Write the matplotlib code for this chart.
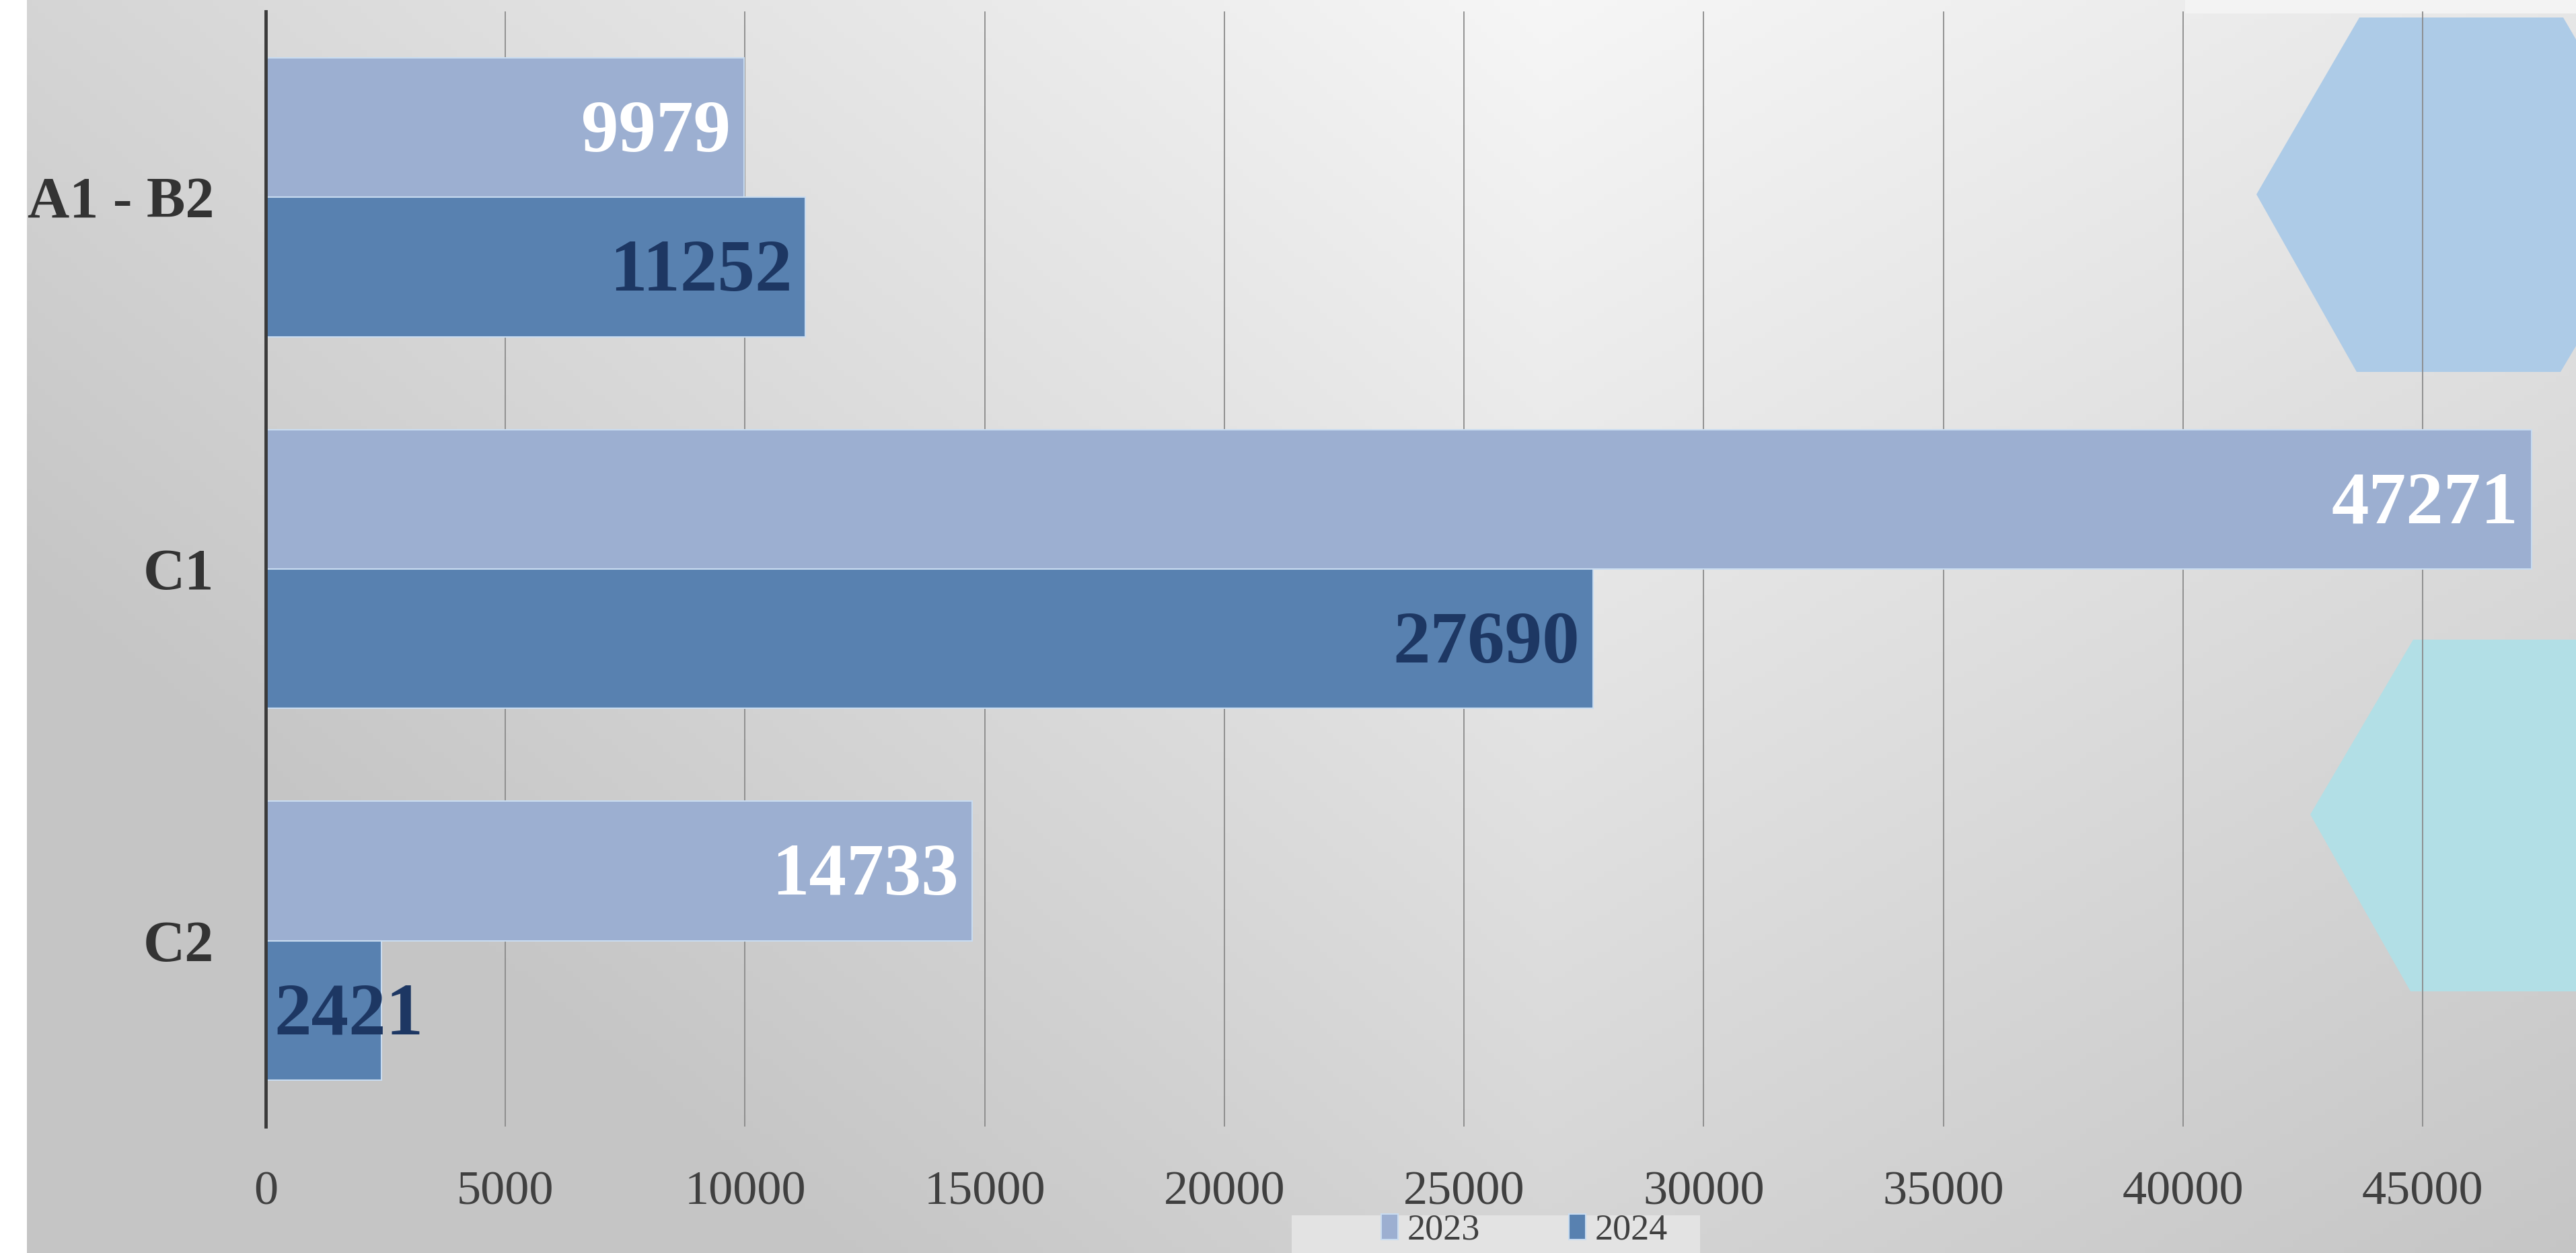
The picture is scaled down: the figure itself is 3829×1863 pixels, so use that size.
"""
Horizontal bar chart: counts per level group, 2023 vs 2024.
Saves out.png (3829x1863).
"""

import numpy as np
import matplotlib.pyplot as plt
from matplotlib.patches import Polygon, Rectangle

# data
categories = ["A1 - B2", "C1", "C2"]
years = ["2023", "2024"]
values_2023 = [9979, 47271, 14733]
values_2024 = [11252, 27690, 2421]
x_ticks = [0, 5000, 10000, 15000, 20000, 25000, 30000, 35000, 40000, 45000]

COLOR_2023 = "#9cafd1"
COLOR_2024 = "#5881b0"
LABEL_2023 = "white"
LABEL_2024 = "#1d3763"
SERIF = ["Liberation Serif", "DejaVu Serif"]

W, H = 3829, 1863
DPI = 100


def px(x, y):
    """pixel coords (origin top-left) -> figure fraction"""
    return x / W, 1 - y / H


def draw_background(fig):
    bg = fig.add_axes([0, 0, 1, 1], zorder=-10)
    bg.set_axis_off()
    yy, xx = np.mgrid[0:1:200j, 0:1:400j]   # yy = 0 at top
    # lightest at the top centre-right, darker to the left and towards the bottom
    light = (0.965 - 0.13 * yy
             - 0.22 * np.clip(0.6 - xx, 0, None)
             - 0.15 * np.clip(xx - 0.6, 0, None))
    light = np.maximum(light, 0.775)
    img = np.dstack([light, light, light])
    bg.imshow(img, extent=[0, 1, 0, 1], aspect="auto", origin="upper")
    bg.set_xlim(0, 1)
    bg.set_ylim(0, 1)

    # white strip on the left edge, light strip top right
    fig.patches.append(Rectangle((0, 0), 40 / W, 1, transform=fig.transFigure,
                                 facecolor="white", edgecolor="none", zorder=-5))
    x0, y0 = px(3248, 20)
    fig.patches.append(Rectangle((x0, y0), 1 - x0, 1 - y0, transform=fig.transFigure,
                                 facecolor="#f3f3f3", edgecolor="none", zorder=-5))

    # the two hexagon shapes on the right
    hex_top = [(3354, 289), (3507, 26), (3810, 26), (3963, 289), (3806, 553), (3503, 553)]
    hex_bot = [(3434, 1211), (3587, 951), (3890, 951), (4043, 1211), (3890, 1474), (3583, 1474)]
    for pts, col in [(hex_top, "#adcbe7"), (hex_bot, "#b2dfe6")]:
        fig.patches.append(Polygon([px(*p) for p in pts], closed=True,
                                   transform=fig.transFigure, facecolor=col,
                                   edgecolor="none", zorder=-4))

    # legend box
    lx, ly = px(1920, 1863)
    fig.patches.append(Rectangle((lx, ly), (2527 - 1920) / W, 56 / H,
                                 transform=fig.transFigure, facecolor="#e3e3e3",
                                 edgecolor="none", zorder=-3))


def plot_levels():
    fig = plt.figure(figsize=(W / DPI, H / DPI), dpi=DPI)
    draw_background(fig)

    left, bottom = px(395, 1675)
    _, top = px(0, 17)
    ax = fig.add_axes([left, bottom, 1 - left, top - bottom])
    ax.patch.set_alpha(0)

    y = np.arange(len(categories))
    h = 0.375
    b1 = ax.barh(y - h / 2, values_2023, h, color=COLOR_2023, edgecolor="#c9dcf0",
                 linewidth=1.5, label=years[0], zorder=3)
    b2 = ax.barh(y + h / 2, values_2024, h, color=COLOR_2024, edgecolor="#c9dcf0",
                 linewidth=1.5, label=years[1], zorder=3)

    ax.set_xlim(0, 48200)
    ax.set_ylim(len(categories) - 0.5, -0.5)
    ax.set_xticks(x_ticks)
    ax.set_xticklabels([str(t) for t in x_ticks], fontsize=52, family=SERIF, color="#404040")
    ax.set_yticks(y)
    ax.set_yticklabels(categories, fontsize=62, family=SERIF, fontweight="bold", color="#333333")
    ax.tick_params(axis="x", length=0, pad=47)
    ax.tick_params(axis="y", length=0, pad=55)
    ax.grid(axis="x", color="#8a8a8a", linewidth=1.3, zorder=1)

    for s in ["top", "right", "bottom"]:
        ax.spines[s].set_visible(False)
    ax.spines["left"].set_color("#3a3a3a")
    ax.spines["left"].set_linewidth(3.5)
    ax.spines["left"].set_zorder(4)

    # value labels at the inside end of each bar
    for bars, vals, col in [(b1, values_2023, LABEL_2023), (b2, values_2024, LABEL_2024)]:
        for bar, v in zip(bars, vals):
            yc = bar.get_y() + bar.get_height() / 2
            if v < 5000:
                xy, off, ha = (0, yc), (9, -6), "left"
            else:
                xy, off, ha = (v, yc), (-14, -6), "right"
            ax.annotate(str(v), xy, xytext=off, textcoords="offset points",
                        ha=ha, va="center", fontsize=80, fontweight="bold",
                        family=SERIF, color=col, zorder=5)

    leg = fig.legend(handles=[b1, b2], labels=years, loc="lower center",
                     bbox_to_anchor=(2266 / W, 0), ncol=2, frameon=False,
                     prop={"family": SERIF, "size": 39},
                     handlelength=0.45, handleheight=0.7, handletextpad=0.25,
                     columnspacing=2.45, borderpad=0.15, borderaxespad=0)
    for t in leg.get_texts():
        t.set_color("#404040")

    fig.savefig("out.png", dpi=DPI)
    plt.close(fig)


if __name__ == "__main__":
    plot_levels()
